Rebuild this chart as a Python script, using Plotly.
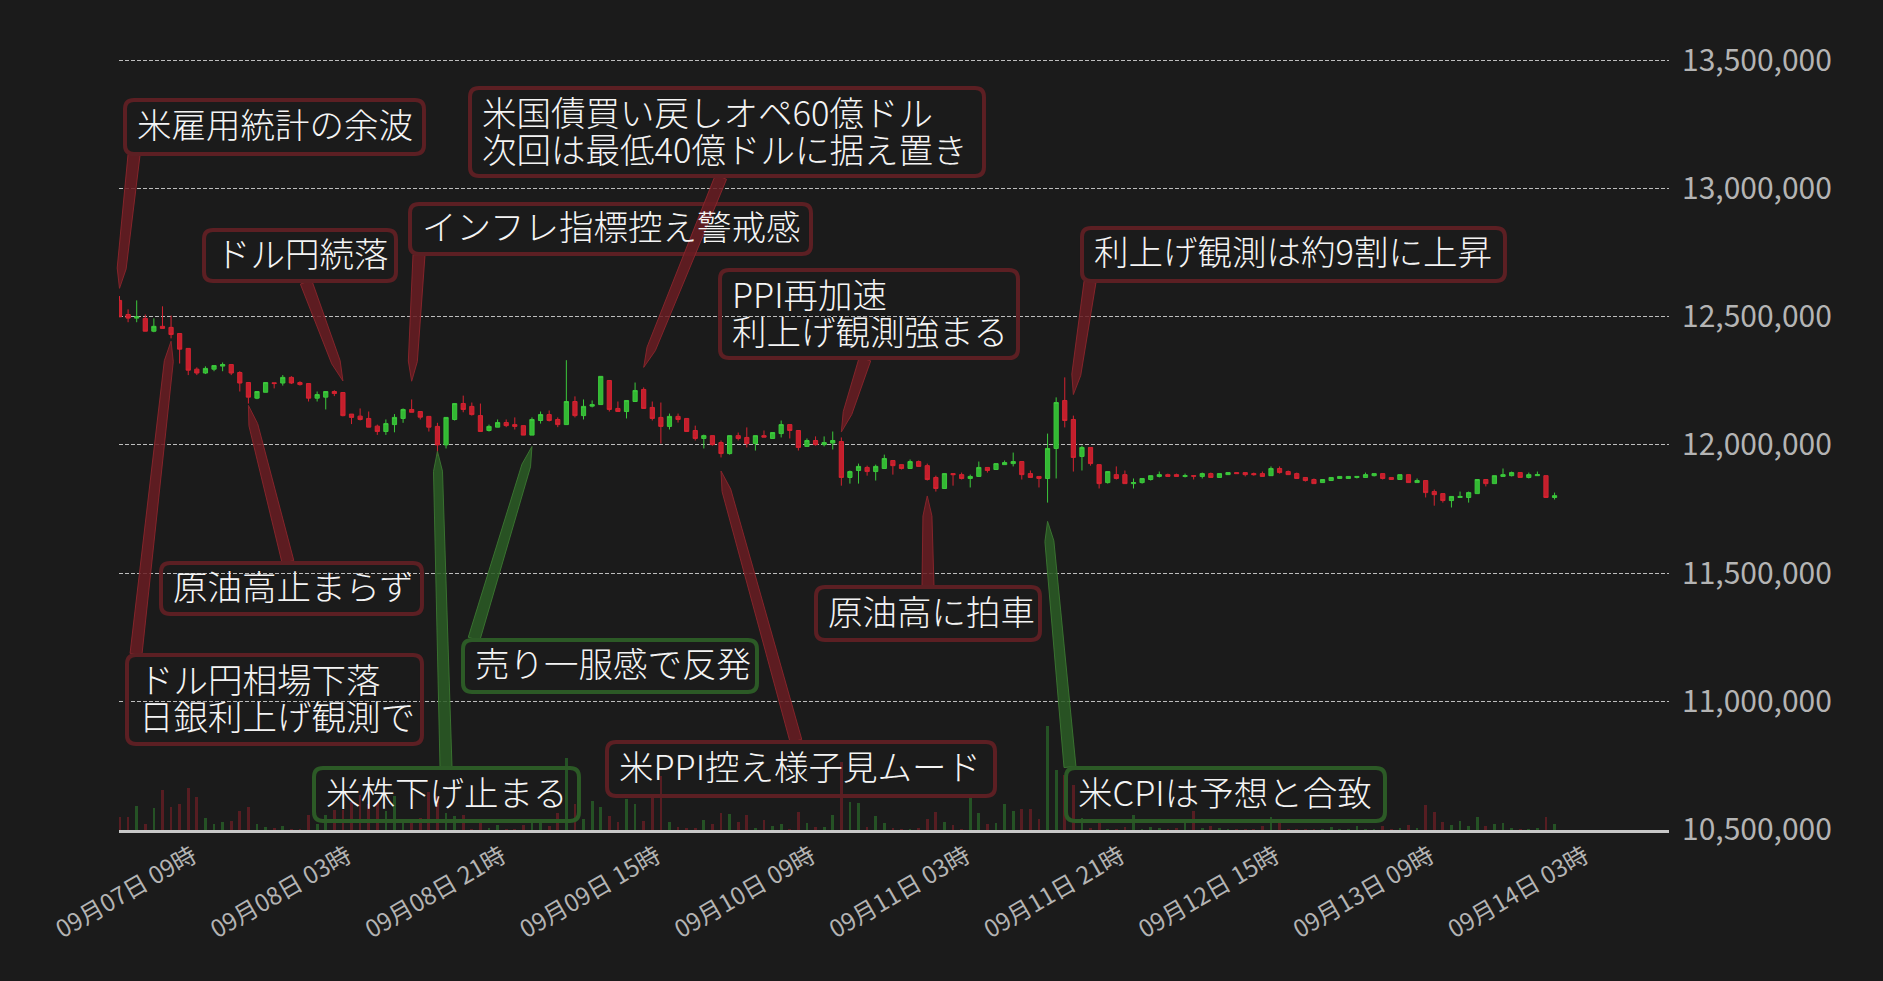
import math
import pandas as pd
import plotly.graph_objects as go

# ---------------- data ----------------
start_time = "2025-09-07 00:30"   # hourly candles, centred on the half hour
n_candles = 168

open_ = [12563000,12508000,12494000,12493000,12443000,12462000,12458000,12434000,12376000,12295000,
         12280000,12295000,12307000,12313000,12282000,12243000,12182000,12205000,12242000,12241000,
         12263000,12243000,12239000,12182000,12186000,12208000,12204000,12120000,12112000,12103000,
         12073000,12052000,12079000,12103000,12138000,12130000,12111000,12072000,12000000,12099000,
         12161000,12150000,12114000,12056000,12069000,12087000,12079000,12075000,12038000,12095000,
         12118000,12099000,12079000,12169000,12114000,12151000,12157000,12251000,12142000,12130000,
         12169000,12216000,12146000,12107000,12072000,12111000,12103000,12056000,12025000,12036000,
         12009000,11966000,12036000,12029000,12005000,12036000,12025000,12044000,12079000,12056000,
         11994000,12017000,12001000,12007000,12013000,11873000,11900000,11912000,11896000,11908000,
         11939000,11923000,11908000,11935000,11919000,11873000,11830000,11888000,11884000,11869000,
         11877000,11912000,11904000,11923000,11927000,11935000,11888000,11877000,11869000,11986000,
         12173000,12099000,11955000,11990000,11923000,11853000,11884000,11884000,11849000,11853000,
         11865000,11877000,11884000,11884000,11877000,11880000,11877000,11888000,11873000,11884000,
         11892000,11892000,11888000,11888000,11880000,11908000,11896000,11888000,11873000,11865000,
         11853000,11861000,11869000,11869000,11873000,11873000,11880000,11888000,11873000,11865000,
         11884000,11853000,11861000,11818000,11810000,11783000,11795000,11795000,11810000,11865000,
         11849000,11877000,11880000,11892000,11873000,11880000,11880000,11795000]
high = [12580000,12528000,12563000,12508000,12493000,12540000,12504000,12434000,12376000,12302000,
        12306000,12309000,12321000,12313000,12287000,12243000,12208000,12243000,12242000,12272000,
        12268000,12248000,12239000,12208000,12208000,12213000,12204000,12120000,12142000,12130000,
        12079000,12099000,12120000,12142000,12177000,12130000,12111000,12086000,12107000,12161000,
        12192000,12165000,12161000,12079000,12099000,12099000,12107000,12075000,12107000,12130000,
        12134000,12107000,12330000,12189000,12177000,12173000,12267000,12251000,12169000,12173000,
        12243000,12224000,12169000,12165000,12122000,12122000,12103000,12075000,12040000,12036000,
        12017000,12036000,12048000,12068000,12036000,12056000,12048000,12095000,12079000,12056000,
        12025000,12033000,12033000,12052000,12029000,11900000,11927000,11919000,11923000,11962000,
        11939000,11923000,11943000,11939000,11927000,11880000,11888000,11888000,11892000,11884000,
        11935000,11912000,11927000,11939000,11970000,11935000,11900000,11877000,12044000,12185000,
        12263000,12114000,11997000,11990000,11923000,11896000,11916000,11900000,11869000,11869000,
        11880000,11896000,11888000,11888000,11888000,11880000,11892000,11892000,11888000,11892000,
        11892000,11892000,11892000,11896000,11916000,11916000,11900000,11892000,11873000,11869000,
        11865000,11873000,11877000,11877000,11877000,11892000,11888000,11888000,11873000,11884000,
        11884000,11869000,11861000,11826000,11810000,11799000,11818000,11818000,11865000,11865000,
        11880000,11908000,11896000,11892000,11892000,11896000,11880000,11814000]
low = [12499000,12478000,12478000,12443000,12439000,12454000,12415000,12317000,12272000,12272000,
       12276000,12287000,12287000,12272000,12208000,12161000,12178000,12205000,12220000,12231000,
       12237000,12231000,12169000,12169000,12138000,12190000,12111000,12081000,12095000,12069000,
       12039000,12039000,12049000,12086000,12127000,12099000,12052000,11956000,11986000,12095000,
       12127000,12114000,12052000,12052000,12069000,12069000,12060000,12038000,12038000,12083000,
       12091000,12069000,12079000,12107000,12099000,12146000,12157000,12130000,12130000,12103000,
       12169000,12142000,12095000,12005000,12060000,12087000,12052000,12017000,11986000,11997000,
       11951000,11962000,12017000,11990000,11978000,12030000,12025000,12029000,12025000,11978000,
       11994000,11997000,11994000,11982000,11841000,11849000,11849000,11880000,11861000,11908000,
       11884000,11904000,11908000,11916000,11861000,11818000,11830000,11841000,11865000,11834000,
       11877000,11892000,11904000,11923000,11916000,11865000,11873000,11834000,11775000,11869000,
       12068000,11896000,11900000,11919000,11830000,11849000,11865000,11849000,11830000,11849000,
       11861000,11873000,11877000,11877000,11873000,11865000,11869000,11873000,11873000,11884000,
       11888000,11877000,11880000,11877000,11880000,11888000,11884000,11869000,11857000,11849000,
       11853000,11861000,11869000,11869000,11869000,11873000,11877000,11865000,11865000,11865000,
       11853000,11853000,11795000,11763000,11775000,11756000,11795000,11775000,11810000,11838000,
       11849000,11877000,11877000,11873000,11869000,11880000,11795000,11787000]
close = [12499000,12494000,12499000,12443000,12462000,12454000,12430000,12373000,12291000,12280000,
         12298000,12309000,12313000,12280000,12241000,12186000,12208000,12243000,12239000,12263000,
         12241000,12235000,12182000,12196000,12208000,12200000,12114000,12107000,12099000,12069000,
         12052000,12083000,12107000,12138000,12127000,12108000,12069000,12000000,12107000,12161000,
         12138000,12118000,12052000,12072000,12087000,12075000,12072000,12038000,12099000,12118000,
         12095000,12079000,12169000,12114000,12150000,12157000,12267000,12138000,12130000,12173000,
         12212000,12142000,12103000,12072000,12111000,12099000,12052000,12025000,12036000,12001000,
         11966000,12036000,12025000,12005000,12036000,12030000,12048000,12079000,12056000,11990000,
         12017000,12001000,12009000,12017000,11873000,11896000,11916000,11896000,11916000,11947000,
         11919000,11908000,11935000,11916000,11865000,11830000,11888000,11884000,11869000,11877000,
         11912000,11900000,11927000,11931000,11935000,11884000,11873000,11869000,11986000,12165000,
         12095000,11951000,11990000,11927000,11849000,11896000,11869000,11849000,11853000,11869000,
         11880000,11884000,11877000,11877000,11880000,11878000,11888000,11873000,11888000,11892000,
         11888000,11884000,11884000,11877000,11908000,11892000,11884000,11869000,11861000,11849000,
         11865000,11873000,11877000,11877000,11877000,11884000,11888000,11869000,11865000,11884000,
         11853000,11861000,11814000,11806000,11783000,11799000,11799000,11814000,11865000,11849000,
         11880000,11884000,11892000,11873000,11884000,11884000,11795000,11802000]
volume = [13.3,13.3,24.3,6.3,22.3,40.3,23.3,26.3,42.3,33.3,
          12.3,6.3,8.3,9.3,19.3,23.3,6.3,3.3,2.3,4.3,
          1.0,1.0,15.3,6.3,15.3,20.3,20.3,28.3,35.3,26.3,
          28.3,19.3,34.3,11.3,8.3,12.3,38.3,34.3,17.3,14.3,
          15.3,1.3,8.3,2.3,5.3,1.3,1.3,5.0,8.3,8.3,
          4.3,17.3,72.3,26.3,11.3,29.3,23.3,14.3,8.3,31.3,
          26.3,9.3,33.3,54.3,8.3,3.3,2.3,2.3,10.3,6.3,
          17.3,16.3,8.3,15.3,2.3,10.3,4.3,6.3,1.3,18.3,
          7.3,3.3,3.3,15.3,67.7,28.3,27.3,3.3,14.3,7.3,
          2.3,1.3,1.3,2.3,11.3,18.3,8.3,5.3,1.3,33.3,
          17.3,6.3,7.3,26.3,19.3,21.3,21.3,11.3,104.3,60.3,
          55.0,45.0,12.3,2.3,9.3,1.3,1.3,3.3,15.3,1.3,
          3.3,2.3,1.3,2.3,7.3,19.3,2.3,4.3,2.3,1.0,
          1.5,1.0,1.5,4.3,13.0,8.3,1.5,1.5,1.0,1.0,
          1.0,3.0,1.0,1.0,4.5,1.0,1.0,4.5,1.0,2.0,
          5.5,2.0,25.0,18.0,8.0,5.0,9.0,4.0,13.0,4.0,
          6.0,7.0,2.0,1.0,1.0,2.0,13.0,6.0]

price_ticks = [10500000, 11000000, 11500000, 12000000, 12500000, 13000000, 13500000]
time_tick_first = "2025-09-07 09:00"
time_tick_step_hours = 18

# callouts: text lines, colour key, box (left, top, right, bottom in px), wedge base (px), tip (candle no., price)
callouts = [
    dict(lines=["米雇用統計の余波"], col="red", box=(123, 98, 426, 156), base=(134, 155), tip=(0, 12610000)),
    dict(lines=["ドル円続落"], col="red", box=(202, 228, 398, 283), base=(306, 282), tip=(26, 12249000)),
    dict(lines=["インフレ指標控え警戒感"], col="red", box=(408, 202, 813, 256), base=(419, 255), tip=(34, 12248000)),
    dict(lines=["米国債買い戻しオペ60億ドル", "次回は最低40億ドルに据え置き"], col="red",
         box=(468, 86, 986, 178), base=(721, 177), tip=(61, 12302000)),
    dict(lines=["PPI再加速", "利上げ観測強まる"], col="red", box=(718, 268, 1020, 360), base=(865, 359), tip=(84, 12050000)),
    dict(lines=["利上げ観測は約9割に上昇"], col="red", box=(1080, 226, 1507, 283), base=(1090, 282), tip=(111, 12196000)),
    dict(lines=["原油高止まらず"], col="red", box=(159, 561, 424, 616), base=(288, 562), tip=(15, 12154000)),
    dict(lines=["ドル円相場下落", "日銀利上げ観測で"], col="red", box=(125, 653, 424, 746), base=(136, 654), tip=(6, 12404000)),
    dict(lines=["米株下げ止まる"], col="green", box=(312, 766, 581, 823), base=(446, 767), tip=(37, 11975000)),
    dict(lines=["売り一服感で反発"], col="green", box=(461, 638, 759, 694), base=(474, 639), tip=(48, 11994000)),
    dict(lines=["米PPI控え様子見ムード"], col="red", box=(605, 740, 997, 798), base=(796, 741), tip=(70, 11898000)),
    dict(lines=["原油高に拍車"], col="red", box=(814, 585, 1042, 642), base=(928, 586), tip=(94, 11801000)),
    dict(lines=["米CPIは予想と合致"], col="green", box=(1064, 766, 1387, 823), base=(1070, 767), tip=(108, 11702000)),
]

# ---------------- layout constants ----------------
FIG_W, FIG_H = 1883, 981
M_L, M_R, M_T, M_B = 119, 214, 55, 151
PW = FIG_W - M_L - M_R
PH = FIG_H - M_T - M_B
BG = "#1b1b1b"
FONT = "Noto Sans CJK JP"
UP, DOWN = "#3cc83c", "#d42331"
UP_FILL, DOWN_FILL = "#33b833", "#c41f2c"
X_RANGE = ["2025-09-07 00:26:30", "2025-09-14 12:49"]
YEN_PER_PX = 3000000 / 770.0
Y_RANGE = [10499000, 13500000 + 5 * YEN_PER_PX]   # 13.5M line sits 5 px below the plot top
VOL_RANGE = [0, PH]
BORDER = {"red": "#5c1f23", "green": "#2c5a26"}
WEDGE_FILL = {"red": "rgba(105,28,34,0.85)", "green": "rgba(42,92,36,0.85)"}
WEDGE_LINE = {"red": "rgba(140,38,44,0.9)", "green": "rgba(60,120,50,0.9)"}

times = pd.date_range(start_time, periods=n_candles, freq="h")
vol_colors = ["rgba(60,200,60,0.32)" if c >= o else "rgba(215,35,50,0.32)" for o, c in zip(open_, close)]

fig = go.Figure()
fig.add_trace(go.Bar(x=times, y=volume, marker=dict(color=vol_colors, line=dict(width=0)),
                     width=1150000, yaxis="y2", hoverinfo="skip", showlegend=False))
fig.add_trace(go.Candlestick(
    x=times, open=open_, high=high, low=low, close=close,
    increasing=dict(line=dict(color=UP, width=1), fillcolor=UP_FILL),
    decreasing=dict(line=dict(color=DOWN, width=1), fillcolor=DOWN_FILL),
    hoverinfo="skip", showlegend=False))

# ---------------- helpers for callouts ----------------
x0 = pd.Timestamp(X_RANGE[0]); x1 = pd.Timestamp(X_RANGE[1])


def px_to_paper(px, py):
    return (px - M_L) / PW, (M_T + PH - py) / PH


def tip_px(idx, price):
    t = times[0] + pd.Timedelta(hours=idx)
    px = M_L + (t - x0) / (x1 - x0) * PW
    py = M_T + PH - (price - Y_RANGE[0]) / (Y_RANGE[1] - Y_RANGE[0]) * PH
    return px, py


def path_from_px(points, close_path=True):
    parts = []
    for i, (px, py) in enumerate(points):
        xp, yp = px_to_paper(px, py)
        parts.append(("M" if i == 0 else "L") + f"{xp:.5f},{yp:.5f}")
    return " ".join(parts) + (" Z" if close_path else "")


def rounded_rect_path(l, t, r, b, rad):
    def P(px, py):
        xp, yp = px_to_paper(px, py)
        return f"{xp:.5f},{yp:.5f}"
    return (f"M{P(l + rad, t)} L{P(r - rad, t)} Q{P(r, t)} {P(r, t + rad)} "
            f"L{P(r, b - rad)} Q{P(r, b)} {P(r - rad, b)} L{P(l + rad, b)} "
            f"Q{P(l, b)} {P(l, b - rad)} L{P(l, t + rad)} Q{P(l, t)} {P(l + rad, t)} Z")


shapes = []
annotations = []
for c in callouts:
    l, t, r, b = c["box"]
    bx, by = c["base"]
    tx, ty = tip_px(*c["tip"])
    dx, dy = tx - bx, ty - by
    ln = math.hypot(dx, dy)
    ux, uy = dx / ln, dy / ln
    nx, ny = -uy, ux
    w0, w1, taper = 12.0, 9.0, 20.0
    mx, my = tx - ux * taper, ty - uy * taper
    pts = [(bx + nx * w0 / 2, by + ny * w0 / 2), (mx + nx * w1 / 2, my + ny * w1 / 2), (tx, ty),
           (mx - nx * w1 / 2, my - ny * w1 / 2), (bx - nx * w0 / 2, by - ny * w0 / 2)]
    shapes.append(dict(type="path", xref="paper", yref="paper", path=path_from_px(pts),
                       fillcolor=WEDGE_FILL[c["col"]], line=dict(color=WEDGE_LINE[c["col"]], width=1), layer="above"))
    shapes.append(dict(type="path", xref="paper", yref="paper",
                       path=rounded_rect_path(l + 2, t + 2, r - 2, b - 2, 9),
                       line=dict(color=BORDER[c["col"]], width=4), fillcolor="rgba(0,0,0,0)", layer="above"))
    n = len(c["lines"])
    cy = (t + b) / 2
    offsets = [-4] if n == 1 else [-21.5, 15.5]
    for txt, off in zip(c["lines"], offsets):
        xp, yp = px_to_paper(l + 14, cy + off)
        annotations.append(dict(text=txt, xref="paper", yref="paper", x=xp, y=yp,
                                xanchor="left", yanchor="middle", showarrow=False,
                                font=dict(family=FONT, size=34.5, color="#f4f4f4", weight=300),
                                borderpad=0, borderwidth=0))

fig.update_layout(
    width=FIG_W, height=FIG_H,
    margin=dict(l=M_L, r=M_R, t=M_T, b=M_B, autoexpand=False),
    paper_bgcolor=BG, plot_bgcolor=BG,
    showlegend=False, hovermode=False, bargap=0,
    font=dict(family=FONT, color="#b4b4b4"),
    shapes=shapes, annotations=annotations,
    xaxis=dict(type="date", range=X_RANGE, rangeslider=dict(visible=False),
               tick0=time_tick_first, dtick=time_tick_step_hours * 3600000,
               tickformat="%m月%d日 %H時", tickangle=-30,
               tickfont=dict(family=FONT, size=24, color="#b4b4b4"),
               showgrid=False, zeroline=False, showline=True, linecolor="#c8c8c8", linewidth=3,
               ticks="", automargin=False, fixedrange=True),
    yaxis=dict(range=Y_RANGE, side="right", tickmode="array", tickvals=price_ticks,
               tickformat=",d", tickfont=dict(family=FONT, size=30, color="#b4b4b4"),
               showgrid=True, gridcolor="#bdbdbd", gridwidth=1, griddash="4px,2px",
               zeroline=False, showline=False, ticks="", ticklabelstandoff=12,
               automargin=False, fixedrange=True),
    yaxis2=dict(range=VOL_RANGE, overlaying="y", side="left", visible=False, showgrid=False,
                fixedrange=True),
)

fig.write_html("out.html", config={"displayModeBar": False},
               post_script="document.body.style.margin='0px';document.body.style.background='#1b1b1b';")
